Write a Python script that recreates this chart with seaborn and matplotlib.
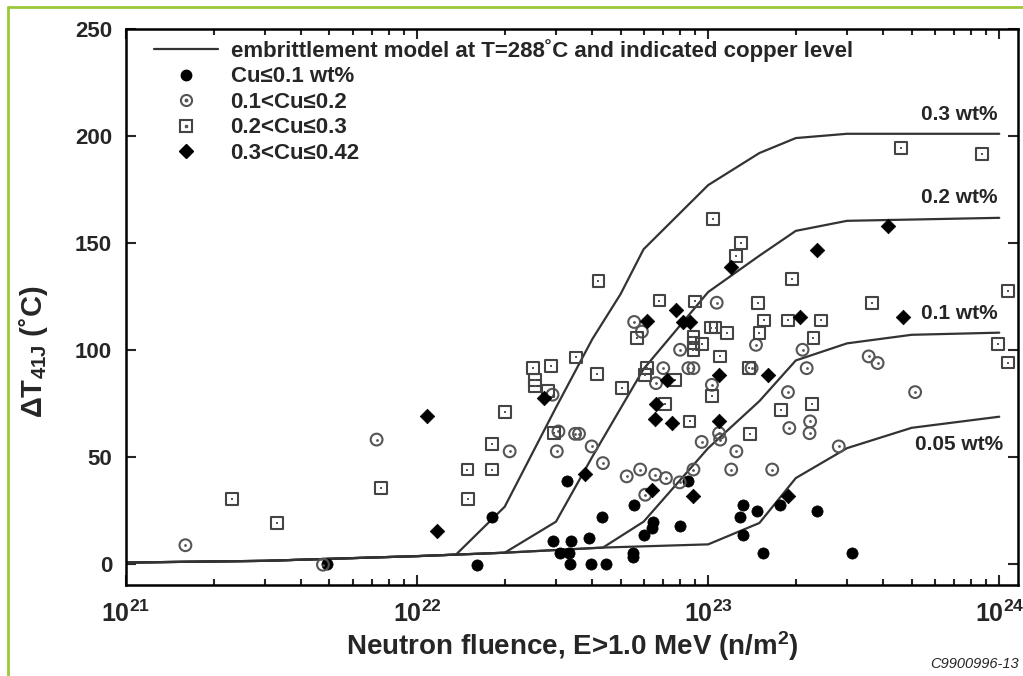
import matplotlib
matplotlib.use("Agg")
import matplotlib.pyplot as plt
import matplotlib.ticker as ticker
from matplotlib.lines import Line2D
from matplotlib.legend_handler import HandlerTuple
import seaborn as sns

# embrittlement model curves: fluence (n/m^2) vs shift (C)
c005_x = [1e21, 3e21, 1e22, 2e22, 4.35e22, 1e23, 1.5e23, 2e23, 3e23, 5e23, 1e24]
c005_y = [0.5, 1.3, 3.5, 5.1, 7.5, 9, 19, 40, 54, 63.5, 68.7]
c01_x = [1e21, 3e21, 1e22, 2e22, 4.35e22, 6e22, 1e23, 1.5e23, 2e23, 3e23, 5e23, 1e24]
c01_y = [0.5, 1.3, 3.5, 5.1, 7.5, 19.6, 54, 76, 95, 103, 107, 108]
c02_x = [1e21, 3e21, 1e22, 2e22, 3e22, 4e22, 6e22, 1e23, 1.5e23, 2e23, 3e23, 1e24]
c02_y = [0.5, 1.3, 3.5, 5.1, 19.6, 50, 91, 127, 144, 155.6, 160.3, 161.7]
c03_x = [1e21, 3e21, 1e22, 1.36e22, 2e22, 3e22, 4e22, 5e22, 6e22, 1e23, 1.5e23, 2e23, 3e23, 1e24]
c03_y = [0.5, 1.3, 3.5, 4.2, 26.6, 73, 105, 126, 147, 177, 192, 199, 201, 201]
curve_names = ["0.05 wt%", "0.1 wt%", "0.2 wt%", "0.3 wt%"]

# measurements by copper content
cu1_x = [4.9e21, 1.61e22, 1.81e22, 2.92e22, 3.1e22, 3.27e22, 3.33e22, 3.36e22, 3.39e22, 3.89e22,
         3.95e22, 4.32e22, 4.45e22, 5.54e22, 5.54e22, 5.57e22, 6.0e22, 6.4e22, 6.45e22, 8.0e22,
         8.55e22, 1.29e23, 1.32e23, 1.32e23, 1.47e23, 1.54e23, 1.77e23, 2.36e23, 3.13e23]
cu1_y = [0, -0.5, 21.8, 10.7, 5, 38.8, 5, 0, 10.7, 12,
         0, 21.8, 0, 5, 3, 27.6, 13.5, 16.7, 19.6, 17.4,
         38.5, 22, 27.6, 13.5, 24.4, 5, 27.6, 24.4, 5]

cu2_x = [1.6e21, 4.75e21, 7.26e21, 2.08e22, 2.92e22, 3.02e22, 3.06e22, 3.49e22, 3.6e22, 3.98e22,
         4.35e22, 5.25e22, 5.57e22, 5.84e22, 5.92e22, 6.08e22, 6.58e22, 6.62e22, 7.01e22, 7.16e22,
         7.98e22, 8.01e22, 8.55e22, 8.9e22, 8.9e22, 9.5e22, 1.03e23, 1.07e23, 1.09e23, 1.1e23,
         1.2e23, 1.25e23, 1.41e23, 1.46e23, 1.66e23, 1.88e23, 1.9e23, 2.11e23, 2.18e23, 2.23e23,
         2.24e23, 2.81e23, 3.56e23, 3.82e23, 5.14e23]
cu2_y = [8.6, -0.5, 58, 52.5, 79, 52.5, 61.8, 60.7, 60.7, 54.8,
         47, 40.8, 113, 44, 108.5, 32.2, 41.6, 84.4, 91.4, 40,
         38, 100, 91.4, 91.4, 44, 56.9, 83.6, 122, 61, 58,
         44, 52.5, 91.4, 102.3, 44, 80.2, 63.4, 100, 91.4, 61,
         66.5, 54.8, 96.9, 93.8, 80.2]

cu3_x = [2.31e21, 3.31e21, 7.5e21, 1.49e22, 1.5e22, 1.81e22, 1.81e22, 2.0e22, 2.5e22, 2.54e22,
         2.54e22, 2.82e22, 2.88e22, 2.96e22, 3.52e22, 4.14e22, 4.2e22, 5.07e22, 5.69e22, 6.07e22,
         6.15e22, 6.8e22, 7.1e22, 7.7e22, 8.63e22, 8.9e22, 8.9e22, 8.9e22, 9.0e22, 9.5e22,
         1.02e23, 1.03e23, 1.04e23, 1.06e23, 1.1e23, 1.16e23, 1.25e23, 1.3e23, 1.38e23, 1.39e23,
         1.48e23, 1.5e23, 1.56e23, 1.78e23, 1.88e23, 1.94e23, 2.28e23, 2.3e23, 2.44e23, 3.66e23,
         4.61e23, 8.7e23, 9.9e23, 1.07e24, 1.07e24]
cu3_y = [30.2, 19, 35.4, 44, 30.2, 44, 56, 70.9, 91.4, 86,
         82.9, 80.8, 92.5, 61, 96.4, 88.6, 132, 82.1, 105.5, 88.3,
         91.4, 123, 74.8, 86, 66.5, 106.2, 103.1, 100, 122.6, 102.7,
         110.4, 78.5, 161, 110.4, 96.9, 108, 144, 149.9, 91.4, 60.7,
         122, 108, 113.7, 72, 113.7, 133, 74.8, 105.5, 113.7, 121.8,
         194.3, 191.6, 102.7, 127.6, 94]

cu4_x = [1.08e22, 1.17e22, 2.73e22, 3.78e22, 6.15e22, 6.4e22, 6.58e22, 6.62e22, 7.2e22, 7.5e22,
         7.76e22, 8.18e22, 8.67e22, 8.86e22, 1.09e23, 1.09e23, 1.2e23, 1.61e23, 1.88e23, 2.07e23,
         2.36e23, 4.14e23, 4.67e23]
cu4_y = [69.2, 15.4, 77.4, 41.9, 113.6, 34.6, 67.6, 74.8, 85.7, 65.7,
         118.7, 113.2, 112.8, 31.8, 88.3, 66.5, 138.6, 88.3, 31.8, 115.3,
         146.7, 158, 115.3]

legend_labels = ["embrittlement model at T=288˚C and indicated copper level",
                 "Cu≤0.1 wt%", "0.1<Cu≤0.2", "0.2<Cu≤0.3", "0.3<Cu≤0.42"]

sns.set_style("ticks")
plt.rcParams["font.family"] = ["Liberation Sans", "DejaVu Sans"]
plt.rcParams["font.weight"] = "bold"
plt.rcParams["mathtext.default"] = "regular"

fig = plt.figure(figsize=(10.23, 6.76), dpi=100)
ax = fig.add_axes([126 / 1023, 1 - 585 / 676, (1018 - 126) / 1023, (585 - 29) / 676])

line_col = "#333333"
for cx, cy in [(c005_x, c005_y), (c01_x, c01_y), (c02_x, c02_y), (c03_x, c03_y)]:
    sns.lineplot(x=cx, y=cy, ax=ax, color=line_col, linewidth=1.6, sort=False,
                 estimator=None)

ax.set_xscale("log")

sns.scatterplot(x=cu1_x, y=cu1_y, ax=ax, marker="o", s=65, color="black",
                edgecolor="black", linewidth=0.5, zorder=3)
sns.scatterplot(x=cu2_x, y=cu2_y, ax=ax, marker="o", s=72, facecolor="none",
                edgecolor="#555555", linewidth=1.5, zorder=3)
sns.scatterplot(x=cu2_x, y=cu2_y, ax=ax, marker="o", s=4, color="#555555",
                linewidth=0, zorder=3)
sns.scatterplot(x=cu3_x, y=cu3_y, ax=ax, marker="s", s=72, facecolor="none",
                edgecolor="#444444", linewidth=1.5, zorder=3)
sns.scatterplot(x=cu3_x, y=cu3_y, ax=ax, marker="s", s=4, color="#555555",
                linewidth=0, zorder=3)
sns.scatterplot(x=cu4_x, y=cu4_y, ax=ax, marker="D", s=55, color="black",
                edgecolor="black", linewidth=0.5, zorder=3)

ax.set_xlim(1e21, 1.16e24)
ax.set_ylim(-10, 250)
ax.yaxis.set_major_locator(ticker.MultipleLocator(50))
ax.xaxis.set_major_locator(ticker.LogLocator(base=10, numticks=10))
ax.xaxis.set_minor_locator(ticker.LogLocator(base=10, subs=range(2, 10), numticks=20))
ax.xaxis.set_minor_formatter(ticker.NullFormatter())
ax.tick_params(which="both", direction="in", top=True, right=True, width=1.5)
ax.tick_params(which="major", length=7)
ax.tick_params(which="minor", length=4)
ax.tick_params(axis="y", pad=10, labelsize=16)
ax.tick_params(axis="x", pad=11, labelsize=18)
for sp in ax.spines.values():
    sp.set_linewidth(1.8)
    sp.set_color("black")

ax.set_xlabel("Neutron fluence, E>1.0 MeV (n/m$^{2}$)", fontsize=20, fontweight="bold",
              labelpad=2)
ax.set_ylabel("ΔT$_{41J}$ (˚C)", fontsize=21, fontweight="bold")
ax.yaxis.set_label_coords(-0.085, 0.42)

# curve labels
label_y = [55.6, 117, 171, 210]
for name, ly in zip(curve_names, label_y):
    ax.text(7.3e23, ly, name, fontsize=15, fontweight="bold", ha="center", va="center")

h_line = Line2D([], [], color=line_col, linewidth=1.6)
h1 = Line2D([], [], marker="o", ls="none", color="black", markersize=7.5)
h2 = (Line2D([], [], marker="o", ls="none", mfc="none", mec="#555555", mew=1.5, markersize=8),
      Line2D([], [], marker="o", ls="none", color="#555555", markersize=1.8))
h3 = (Line2D([], [], marker="s", ls="none", mfc="none", mec="#444444", mew=1.5, markersize=8),
      Line2D([], [], marker="s", ls="none", color="#555555", markersize=1.8))
h4 = Line2D([], [], marker="D", ls="none", color="black", markersize=7)
leg = ax.legend([h_line, h1, h2, h3, h4], legend_labels, loc="upper left",
                bbox_to_anchor=(0.02, 1.0), frameon=False, fontsize=16,
                handlelength=2.9, handletextpad=0.55, labelspacing=0.2,
                borderaxespad=0.05,
                handler_map={tuple: HandlerTuple(ndivide=1)})
for t in leg.get_texts():
    t.set_fontweight("bold")

# green frame and figure id
green = "#9BC93A"
fig.add_artist(Line2D([8 / 1023, 8 / 1023], [0, 1 - 7 / 676], color=green, linewidth=2,
                      transform=fig.transFigure))
fig.add_artist(Line2D([8 / 1023, 1], [1 - 7 / 676, 1 - 7 / 676], color=green, linewidth=2,
                      transform=fig.transFigure))
fig.text(1019 / 1023, 1 - 664 / 676, "C9900996-13", fontsize=10.5, style="italic",
         fontweight="normal", ha="right", va="center")

fig.savefig("out.png", dpi=100)
